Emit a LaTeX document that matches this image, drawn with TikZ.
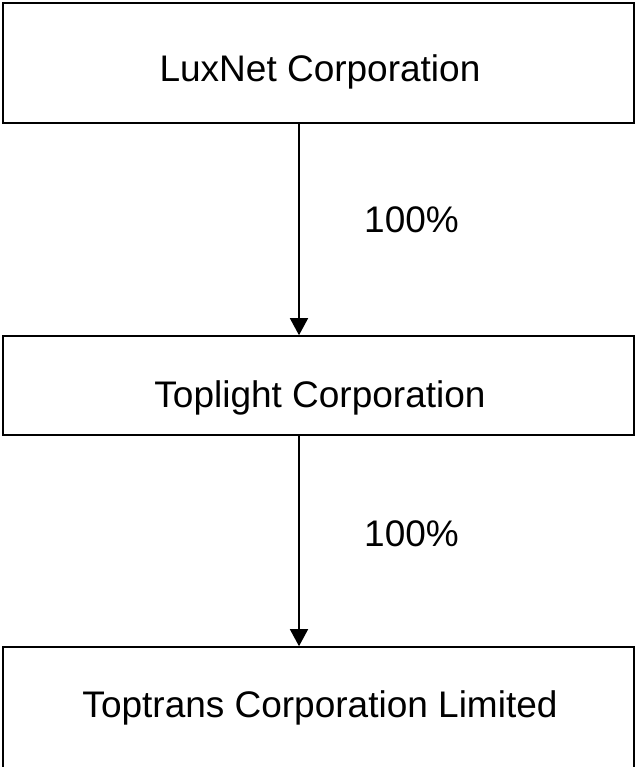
\documentclass[tikz,border=0pt]{standalone}
\usepackage{fontspec}
\setmainfont{Liberation Sans}
\usetikzlibrary{arrows.meta}
\begin{document}
\begin{tikzpicture}[x=1pt,y=-1pt,
  boxstyle/.style={draw=black,line width=1.6pt,fill=white,inner sep=0pt},
  labelstyle/.style={inner sep=0pt,anchor=base,font=\fontsize{37}{44}\selectfont},
  arr/.style={line width=1.5pt,-{Triangle[length=17pt,width=18pt]}}]
\useasboundingbox (0,0) rectangle (635,767);
\node[boxstyle,minimum width=631pt,minimum height=120pt] (b1) at (318.5,63) {};
\node[boxstyle,minimum width=631pt,minimum height=99pt] (b2) at (318.5,385.5) {};
\node[boxstyle,minimum width=631pt,minimum height=124pt] (b3) at (318.5,709) {};
\node[labelstyle] (t1) at (320,82) {LuxNet Corporation};
\node[labelstyle] (t2) at (320,407) {Toplight Corporation};
\node[labelstyle] (t3) at (320,717) {Toptrans Corporation Limited};
\coordinate (ax) at (299,0);
\draw[arr] (b1.south -| ax) -- (b2.north -| ax);
\draw[arr] (b2.south -| ax) -- (b3.north -| ax);
\node[labelstyle,anchor=base west] (p1) at (364,232) {100\%};
\node[labelstyle,anchor=base west] (p2) at (364,546) {100\%};
\end{tikzpicture}
\end{document}
